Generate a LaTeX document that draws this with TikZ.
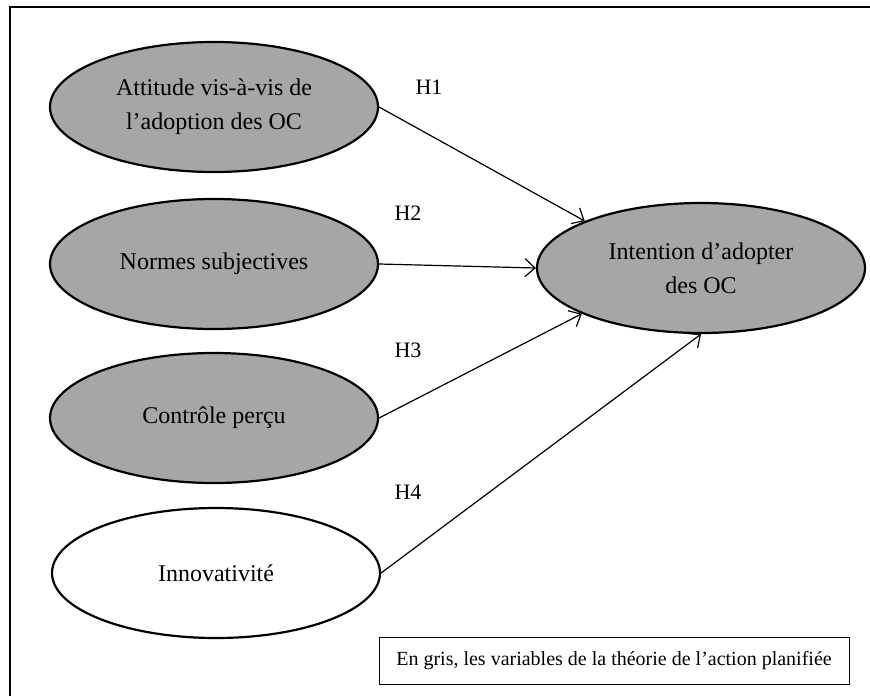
\documentclass[tikz,border=0pt]{standalone}
\usepackage{fontspec}
\setmainfont{Liberation Serif}
\usetikzlibrary{shapes.geometric,arrows.meta}
\definecolor{tragray}{HTML}{A6A6A6}
\begin{document}
\begin{tikzpicture}[x=0.5pt,y=-0.5pt,
  var/.style={ellipse,draw,line width=1.1pt,minimum width=164pt,minimum height=65pt,inner sep=0pt,
    align=center,font=\fontsize{12}{17}\selectfont},
  grayvar/.style={var,fill=tragray},
  hyp/.style={font=\fontsize{11}{13}\selectfont,inner sep=0pt},
  link/.style={line width=0.6pt,-{Straight Barb[length=5pt,width=9pt,line width=0.6pt]}},
  legend/.style={draw,line width=0.5pt,minimum width=235pt,minimum height=23.5pt,inner sep=0pt,
    font=\fontsize{10}{12}\selectfont}]
\useasboundingbox (0,0) rectangle (870,696);
\fill[white] (0,0) rectangle (870,696);
\draw[line width=1pt] (10,696) -- (10,7) -- (870,7);

\node[grayvar] (att) at (214,107) {Attitude vis-à-vis de\\l’adoption des OC};
\node[grayvar] (nor) at (214,264) {Normes subjectives};
\node[grayvar] (con) at (214,418) {Contrôle perçu};
\node[var,fill=white] (inn) at (216,573) {Innovativité};
\node[grayvar] (int) at (701,268) {Intention d’adopter\\des OC};

\node[hyp] (h1) at (429,87) {H1};
\node[hyp] (h2) at (408,213) {H2};
\node[hyp] (h3) at (408,350) {H3};
\node[hyp] (h4) at (408,492) {H4};

\draw[link] (att.east) -- (int.158);
\draw[link] (nor.east) -- (int.west);
\draw[link] (con.east) -- (int.201);
\draw[link] (inn.east) -- (int.south);

\node[legend] (leg) at (614,660.5) {En gris, les variables de la théorie de l’action planifiée};
\end{tikzpicture}
\end{document}
